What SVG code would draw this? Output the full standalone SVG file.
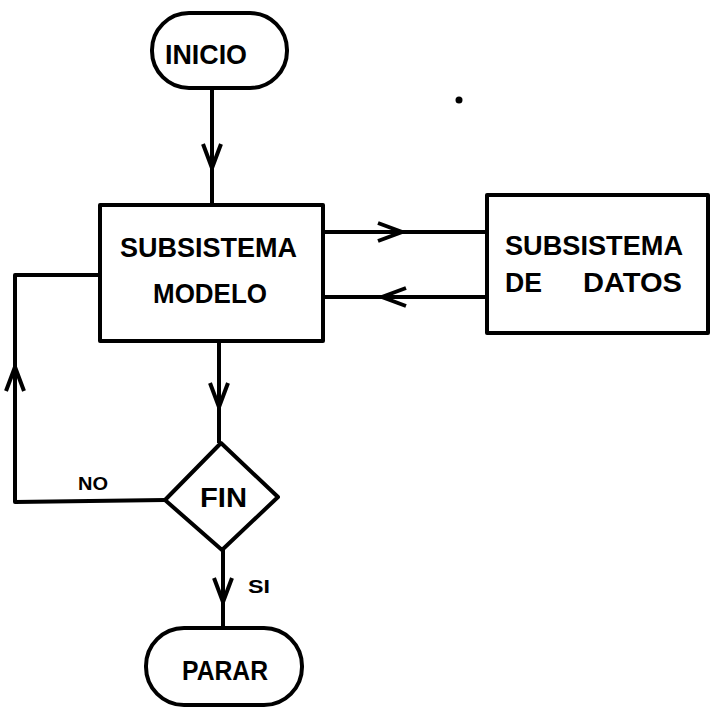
<svg xmlns="http://www.w3.org/2000/svg" width="710" height="717" viewBox="0 0 710 717">
<style>
.shape{fill:#fff;stroke:#000;stroke-width:4;stroke-linejoin:round}
.conn{fill:none;stroke:#000;stroke-width:4;stroke-linejoin:round}
.lbl{font-family:"Liberation Sans",Arial,sans-serif;font-weight:bold;font-size:27px;fill:#000}
.small{font-size:19px}
</style>
<defs>
<marker id="chev" markerUnits="userSpaceOnUse" markerWidth="40" markerHeight="30" viewBox="-30 -15 40 30" refX="0" refY="0" orient="auto">
<path d="M -24,-9 L 0,0 L -24,9" fill="none" stroke="#000" stroke-width="4" stroke-linejoin="miter"/>
</marker>
</defs>
<rect width="710" height="717" fill="#fff"/>
<g id="connectors">
<path class="conn" d="M 212,88 L 212,168 L 212,205" marker-mid="url(#chev)"/>
<path class="conn" d="M 323,232 L 402,232 L 487,232" marker-mid="url(#chev)"/>
<path class="conn" d="M 487,297 L 382,297 L 323,297" marker-mid="url(#chev)"/>
<path class="conn" d="M 219,341 L 219,407 L 219,443" marker-mid="url(#chev)"/>
<path class="conn" d="M 165,500 L 15,502 L 15,367" marker-end="url(#chev)"/>
<path class="conn" d="M 15,367 L 15,275 L 100,275"/>
<path class="conn" d="M 223,550 L 223,602 L 223,628" marker-mid="url(#chev)"/>
<text class="lbl small" x="78" y="490" textLength="30" lengthAdjust="spacingAndGlyphs">NO</text>
<text class="lbl small" x="248" y="593" textLength="22" lengthAdjust="spacingAndGlyphs">SI</text>
</g>
<g id="inicio">
<rect class="shape" x="152" y="13" width="135" height="75" rx="37" ry="37"/>
<text class="lbl" x="165" y="64" textLength="82" lengthAdjust="spacingAndGlyphs">INICIO</text>
</g>
<g id="modelo">
<rect class="shape" x="100" y="205" width="223" height="136"/>
<text class="lbl" x="120" y="257" textLength="177" lengthAdjust="spacingAndGlyphs">SUBSISTEMA</text>
<text class="lbl" x="153" y="303" textLength="114" lengthAdjust="spacingAndGlyphs">MODELO</text>
</g>
<g id="datos">
<rect class="shape" x="487" y="195" width="221" height="138"/>
<text class="lbl" x="505" y="255" textLength="178" lengthAdjust="spacingAndGlyphs">SUBSISTEMA</text>
<text class="lbl" x="505" y="292" textLength="37" lengthAdjust="spacingAndGlyphs">DE</text>
<text class="lbl" x="583" y="292" textLength="99" lengthAdjust="spacingAndGlyphs">DATOS</text>
</g>
<g id="fin">
<polygon class="shape" points="221,443 278,497 222,550 165,500"/>
<text class="lbl" x="200" y="507" textLength="47" lengthAdjust="spacingAndGlyphs">FIN</text>
</g>
<g id="parar">
<rect class="shape" x="146" y="628" width="156" height="77" rx="38" ry="38"/>
<text class="lbl" x="182" y="680" textLength="86" lengthAdjust="spacingAndGlyphs">PARAR</text>
</g>
<circle cx="459" cy="100" r="3.5" fill="#000"/>
</svg>
